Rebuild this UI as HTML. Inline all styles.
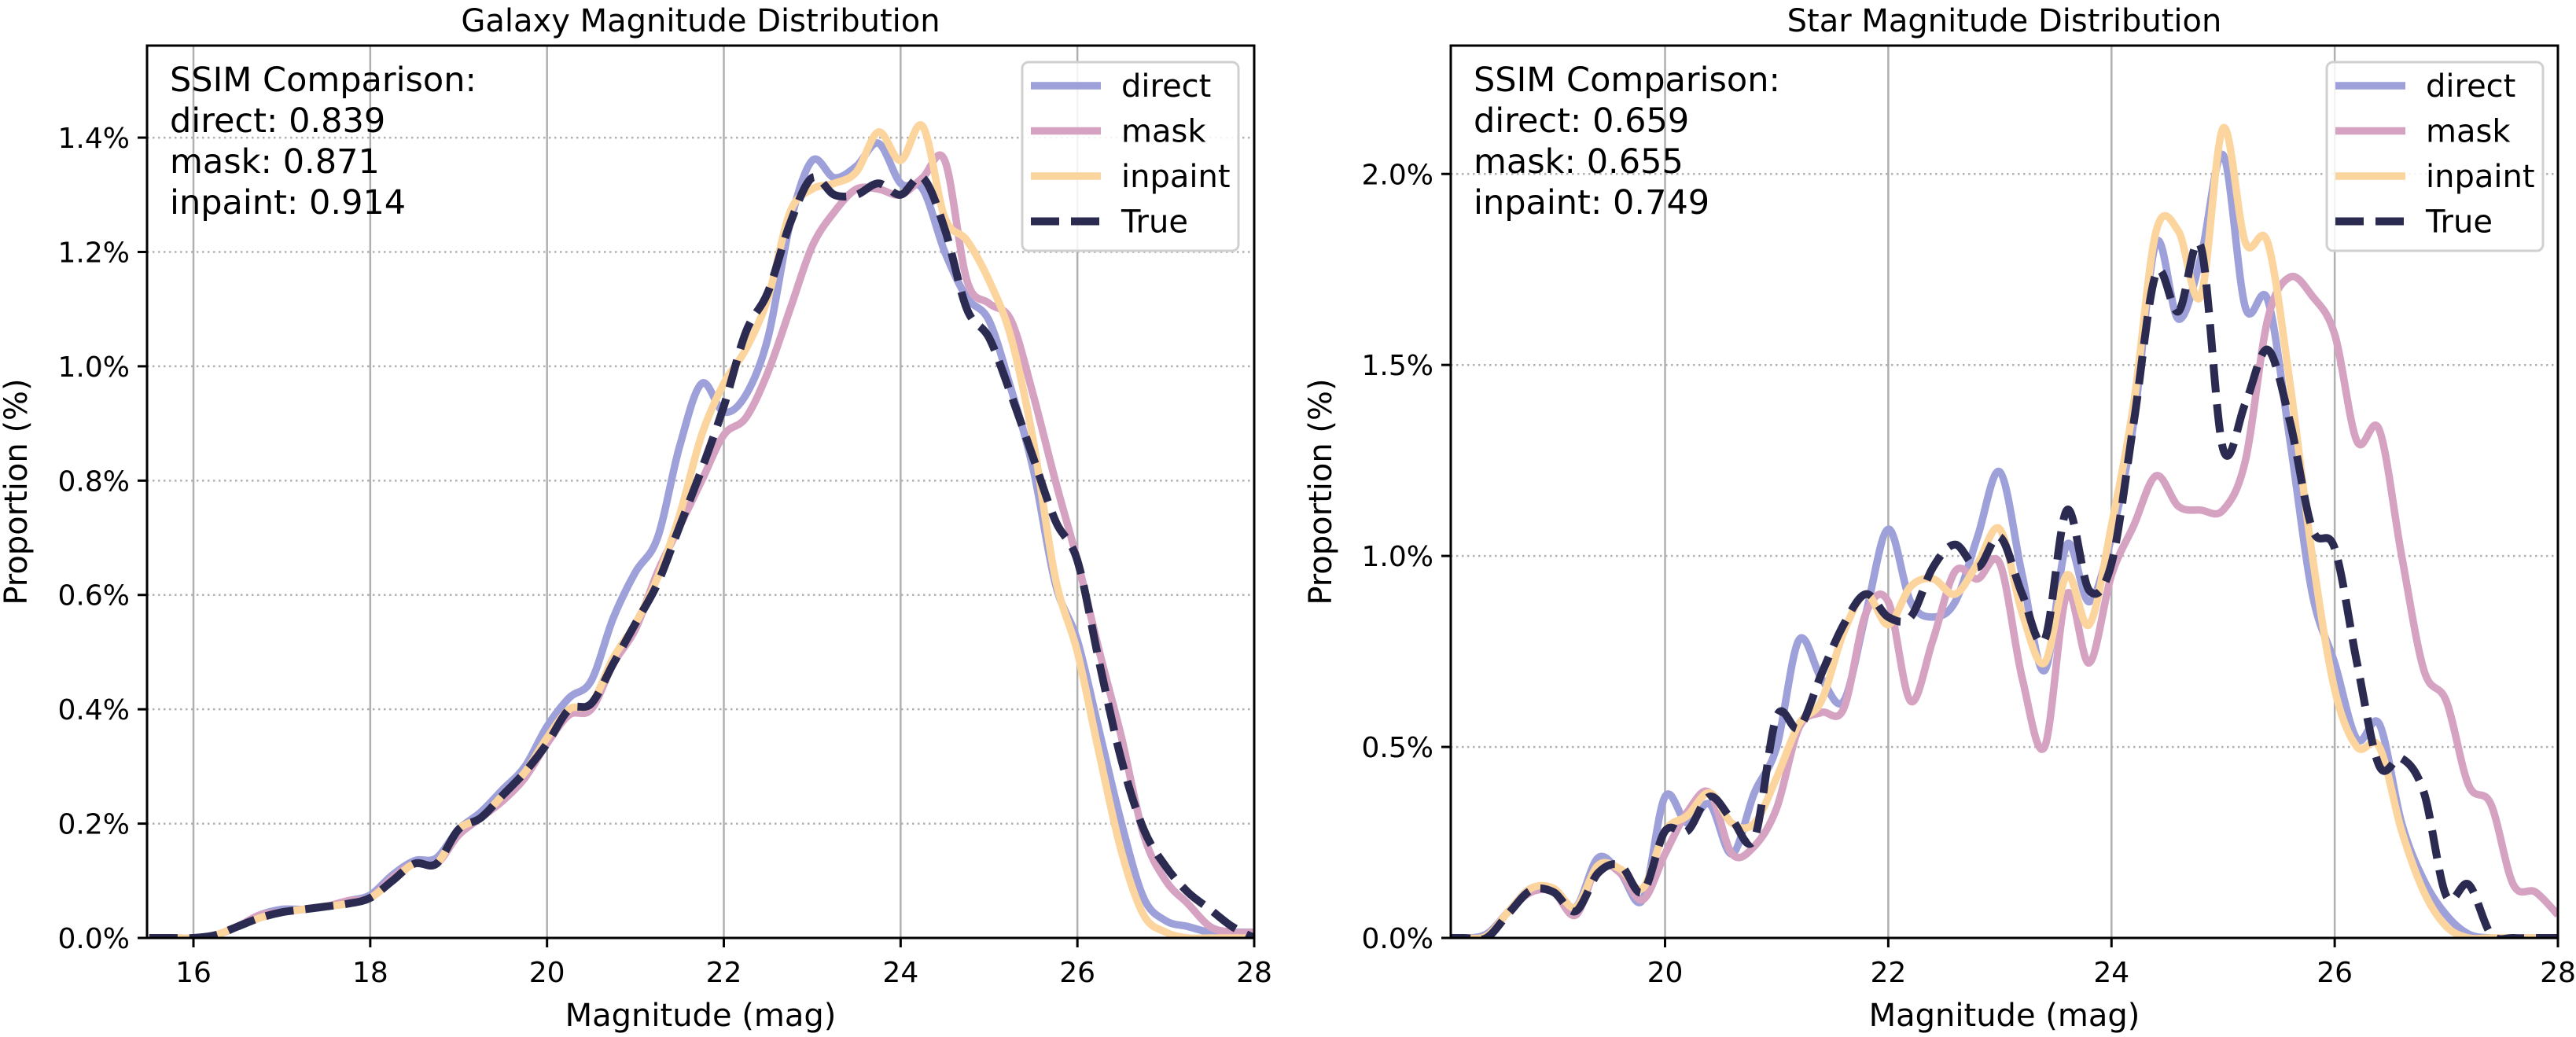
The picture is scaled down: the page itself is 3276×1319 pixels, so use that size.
<!DOCTYPE html>
<html><head><meta charset="utf-8"><style>
html,body{margin:0;padding:0;background:#fff;}
svg{display:block;font-family:"DejaVu Sans","Liberation Sans",sans-serif;}
</style></head><body>
<svg id="chart" width="3276" height="1319" viewBox="0 0 3276 1319" xmlns="http://www.w3.org/2000/svg"></svg>
<script>
// ---- Galaxy data ----
const galaxyMag = [15.5,15.75,16,16.25,16.5,16.75,17,17.25,17.5,17.75,18,18.25,18.5,18.75,19,19.25,19.5,19.75,20,20.25,20.5,20.75,21,21.25,21.5,21.75,22,22.25,22.5,22.75,23,23.25,23.5,23.75,24,24.25,24.5,24.75,25,25.25,25.5,25.75,26,26.25,26.5,26.75,27,27.25,27.5,27.75,28];
const galaxyDirect = [0,0,0,0.005,0.02,0.04,0.05,0.05,0.055,0.065,0.075,0.11,0.135,0.14,0.19,0.22,0.26,0.30,0.37,0.42,0.45,0.56,0.64,0.70,0.86,0.97,0.92,0.95,1.05,1.25,1.36,1.33,1.35,1.39,1.32,1.31,1.20,1.12,1.08,0.96,0.82,0.62,0.52,0.36,0.20,0.07,0.03,0.02,0.01,0.01,0.01];
const galaxyMask = [0,0,0,0.005,0.02,0.04,0.045,0.05,0.055,0.065,0.07,0.105,0.13,0.13,0.18,0.21,0.24,0.28,0.34,0.39,0.40,0.48,0.54,0.64,0.72,0.80,0.88,0.91,0.99,1.10,1.21,1.27,1.31,1.31,1.30,1.33,1.36,1.15,1.11,1.08,0.95,0.80,0.66,0.50,0.35,0.18,0.10,0.06,0.02,0.01,0.01];
const galaxyInpaint = [0,0,0,0.005,0.02,0.035,0.045,0.05,0.055,0.06,0.07,0.10,0.13,0.13,0.19,0.21,0.25,0.29,0.35,0.40,0.41,0.49,0.55,0.63,0.74,0.88,0.97,1.03,1.12,1.27,1.31,1.32,1.34,1.41,1.36,1.42,1.26,1.22,1.15,1.05,0.87,0.63,0.50,0.32,0.15,0.04,0.01,0,0,0,0];
const galaxyTrue = [0,0,0,0.005,0.02,0.035,0.045,0.05,0.055,0.06,0.07,0.10,0.13,0.13,0.19,0.21,0.25,0.29,0.34,0.40,0.41,0.48,0.55,0.62,0.72,0.82,0.93,1.06,1.13,1.25,1.33,1.30,1.30,1.32,1.30,1.33,1.24,1.10,1.05,0.95,0.84,0.73,0.66,0.48,0.31,0.19,0.125,0.08,0.05,0.02,0.0];
const galaxyXTicks = [16,18,20,22,24,26,28];
const galaxyYTicks = [0,0.2,0.4,0.6,0.8,1.0,1.2,1.4];
const galaxySSIM = ["direct: 0.839","mask: 0.871","inpaint: 0.914"];
// ---- Star data ----
const starMag = [18,18.2,18.4,18.6,18.8,19,19.2,19.4,19.6,19.8,20,20.2,20.4,20.6,20.8,21,21.2,21.4,21.6,21.8,22,22.2,22.4,22.6,22.8,23,23.2,23.4,23.6,23.8,24,24.2,24.4,24.6,24.8,25,25.2,25.4,25.6,25.8,26,26.2,26.4,26.6,26.8,27,27.2,27.4,27.6,27.8,28];
const starDirect = [0,0,0.01,0.07,0.13,0.12,0.08,0.21,0.17,0.10,0.37,0.30,0.35,0.22,0.38,0.50,0.78,0.68,0.62,0.85,1.07,0.88,0.84,0.88,1.05,1.22,0.95,0.70,1.03,0.88,1.05,1.35,1.82,1.62,1.78,2.05,1.65,1.67,1.30,0.90,0.72,0.52,0.56,0.30,0.15,0.06,0.01,0,0,0,0];
const starMask = [0,0,0.005,0.07,0.12,0.12,0.06,0.19,0.17,0.10,0.22,0.33,0.38,0.22,0.24,0.34,0.55,0.59,0.60,0.85,0.88,0.62,0.78,0.96,0.94,0.98,0.68,0.50,0.90,0.72,0.95,1.08,1.21,1.13,1.12,1.12,1.25,1.62,1.73,1.68,1.58,1.30,1.33,1.00,0.70,0.62,0.40,0.35,0.14,0.12,0.06];
const starInpaint = [0,0,0.005,0.07,0.13,0.13,0.08,0.19,0.18,0.13,0.28,0.32,0.38,0.30,0.30,0.42,0.56,0.62,0.80,0.90,0.82,0.92,0.94,0.90,0.98,1.07,0.85,0.72,0.95,0.82,1.08,1.40,1.85,1.85,1.68,2.12,1.82,1.82,1.45,1.00,0.65,0.50,0.50,0.28,0.12,0.03,0,0,0,0,0];
const starTrue = [0,0,0,0.065,0.125,0.12,0.07,0.17,0.19,0.12,0.28,0.28,0.37,0.31,0.26,0.58,0.55,0.69,0.82,0.90,0.84,0.84,0.97,1.03,0.97,1.05,0.90,0.78,1.12,0.91,0.98,1.35,1.74,1.64,1.81,1.28,1.40,1.54,1.35,1.07,1.02,0.72,0.45,0.47,0.38,0.11,0.14,0.01,0,0,0];
const starXTicks = [20,22,24,26,28];
const starYTicks = [0,0.5,1.0,1.5,2.0];
const starSSIM = ["direct: 0.659","mask: 0.655","inpaint: 0.749"];
const seriesNames = ["direct","mask","inpaint","True"];

const NS="http://www.w3.org/2000/svg";
const svg=document.getElementById('chart');
const colors={direct:"#9da0d9",mask:"#d6a2c2",inpaint:"#fbd49e",True:"#2b2b52"};
function mk(tag,attrs,parent){const e=document.createElementNS(NS,tag);for(const k in attrs)e.setAttribute(k,attrs[k]);(parent||svg).appendChild(e);return e;}

function smoothPath(pts){
  let d="M"+pts[0][0].toFixed(1)+","+pts[0][1].toFixed(1);
  for(let i=0;i<pts.length-1;i++){
    const p0=pts[Math.max(0,i-1)],p1=pts[i],p2=pts[i+1],p3=pts[Math.min(pts.length-1,i+2)];
    const c1=[p1[0]+(p2[0]-p0[0])/6,p1[1]+(p2[1]-p0[1])/6];
    const c2=[p2[0]-(p3[0]-p1[0])/6,p2[1]-(p3[1]-p1[1])/6];
    d+=" C"+c1[0].toFixed(1)+","+c1[1].toFixed(1)+" "+c2[0].toFixed(1)+","+c2[1].toFixed(1)+" "+p2[0].toFixed(1)+","+p2[1].toFixed(1);
  }
  return d;
}

function panel(cfg){
  const g=mk('g',{});
  
  
  const L=cfg.L,R=cfg.R,T=58,B=1193;
  const sx=v=>L+(v-cfg.xmin)/(cfg.xmax-cfg.xmin)*(R-L);
  const sy=v=>B-(v-0)/(cfg.ymax)*(B-T);
  const clipId=cfg.id+'-clip';
  const defs=mk('defs',{},g);
  const cp=mk('clipPath',{id:clipId},defs);
  mk('rect',{x:L,y:T,width:R-L,height:B-T},cp);
  cfg.xticks.forEach(t=>{
    const x=sx(t);
    const gl=mk('line',{x1:x,x2:x,y1:T,y2:B,stroke:"#b0b0b0","stroke-width":2.5},g);
    
    
  });
  cfg.yticks.forEach(t=>{
    const y=sy(t);
    const gl=mk('line',{x1:L,x2:R,y1:y,y2:y,stroke:"#b0b0b0","stroke-width":2.5,"stroke-dasharray":"2.5,4.5"},g);
    
    
  });
  const data=[cfg.direct,cfg.mask,cfg.inpaint,cfg.truth];
  const sg=mk('g',{"clip-path":"url(#"+clipId+")"},g);
  data.forEach((arr,i)=>{
    const name=seriesNames[i];
    const pts=cfg.mag.map((m,j)=>[sx(m),sy(arr[j])]);
    const attrs={d:smoothPath(pts),fill:"none",stroke:colors[name],"stroke-width":name==="True"?10:9.5,"stroke-linejoin":"round"};
    if(name==="True"){attrs["stroke-dasharray"]="36,15";}
    const p=mk('path',attrs,sg);
    
    
  });
  const fr=mk('rect',{x:L,y:T,width:R-L,height:B-T,fill:"none",stroke:"#000","stroke-width":3},g);
  
  
  cfg.xticks.forEach(t=>{
    const x=sx(t);
    mk('line',{x1:x,x2:x,y1:B,y2:B+12,stroke:"#000","stroke-width":3},g);
    const tx=mk('text',{x:x,y:B+56,"text-anchor":"middle","font-size":36},g);
    tx.textContent=String(t);
    
    
  });
  cfg.yticks.forEach(t=>{
    const y=sy(t);
    mk('line',{x1:L-12,x2:L,y1:y,y2:y,stroke:"#000","stroke-width":3},g);
    const tx=mk('text',{x:L-22,y:y+13,"text-anchor":"end","font-size":36},g);
    tx.textContent=t.toFixed(1)+"%";
    
    
  });
  const ti=mk('text',{x:(L+R)/2,y:40,"text-anchor":"middle","font-size":40},g);
  ti.textContent=cfg.title;
  
  
  const xl=mk('text',{x:(L+R)/2,y:1305,"text-anchor":"middle","font-size":40},g);
  xl.textContent="Magnitude (mag)";
  
  
  const yx=cfg.ylabX, yc=(T+B)/2;
  const yl=mk('text',{x:yx,y:yc,"text-anchor":"middle","font-size":40,transform:"rotate(-90 "+yx+" "+yc+")"},g);
  yl.textContent="Proportion (%)";
  
  
  const an=mk('text',{"font-size":43},g);
  
  
  ["SSIM Comparison:"].concat(cfg.ssim).forEach((s,i)=>{
    const ts=mk('tspan',{x:L+29,y:116+i*52},an);ts.textContent=s;
  });
  const lg=mk('g',{},g);
  
  
  const lx=cfg.legX;
  mk('rect',{x:lx,y:79,width:275,height:240,rx:8,fill:"#fff","fill-opacity":0.85,stroke:"#d0d0d0","stroke-width":3},lg);
  seriesNames.forEach((n,i)=>{
    const y=109+i*57.5;
    const ent=mk('g',{},lg);
    
    
    const a={x1:lx+11,x2:lx+100,y1:y,y2:y,stroke:colors[n],"stroke-width":n==="True"?10:9.5};
    if(n==="True")a["stroke-dasharray"]="36,15";
    mk('line',a,ent);
    const t=mk('text',{x:lx+126,y:y+14,"font-size":40},ent);t.textContent=n;
  });
}

panel({id:'galaxy',L:187,R:1595,xmin:15.475,xmax:28,ymax:1.561,mag:galaxyMag,direct:galaxyDirect,mask:galaxyMask,inpaint:galaxyInpaint,truth:galaxyTrue,xticks:galaxyXTicks,yticks:galaxyYTicks,title:"Galaxy Magnitude Distribution",ssim:galaxySSIM,ylabX:34,legX:1300});
panel({id:'star',L:1845,R:3253,xmin:18.08,xmax:28,ymax:2.336,mag:starMag,direct:starDirect,mask:starMask,inpaint:starInpaint,truth:starTrue,xticks:starXTicks,yticks:starYTicks,title:"Star Magnitude Distribution",ssim:starSSIM,ylabX:1693,legX:2959});
</script>
</body></html>
